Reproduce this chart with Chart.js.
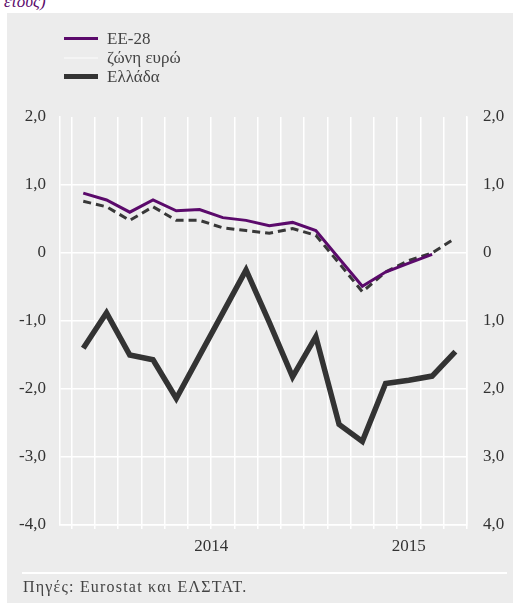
<!DOCTYPE html>
<html>
<head>
<meta charset="utf-8">
<script src="https://cdn.jsdelivr.net/npm/chart.js@4.4.1/dist/chart.umd.min.js"></script>
<style>
  html, body { margin: 0; padding: 0; background: #fff; }
  body { width: 513px; height: 603px; position: relative; overflow: hidden; font-family: "Liberation Serif", "DejaVu Serif", serif; }
  #panel { position: absolute; left: 7px; top: 13px; right: 0; bottom: 0; background: #ececec; }
  #title { position: absolute; left: 4px; top: -8px; color: #5b0a6b; font-size: 17px; font-style: italic; }
  #wrap { position: absolute; left: 0; top: 0; width: 513px; height: 603px; }
  #legend { position: absolute; left: 64px; top: 29px; font-size: 17px; color: #444; line-height: 19px; }
  #legend .row { display: flex; align-items: center; }
  #legend .sw { width: 34px; margin-right: 9px; }
  #rule { position: absolute; left: 22px; width: 485px; top: 572px; height: 2px; background: #fff; }
  #source { position: absolute; left: 23px; top: 578px; font-size: 16px; letter-spacing: 1.2px; color: #444; }
</style>
</head>
<body>
<div id="panel"></div>
<div id="title">έτους)</div>
<div id="wrap"><canvas id="chart"></canvas></div>
<div id="legend">
  <div class="row"><span class="sw" style="border-top:3px solid #5b0a6b"></span>ΕΕ-28</div>
  <div class="row"><span class="sw" style="border-top:2px solid #f4f4f4"></span>ζώνη ευρώ</div>
  <div class="row"><span class="sw" style="border-top:5px solid #333"></span>Ελλάδα</div>
</div>
<div id="rule"></div>
<div id="source">Πηγές: Eurostat και ΕΛΣΤΑΤ.</div>
<script>
// periods (unlabelled months), index positions on the x axis
const periods = [0, 1, 2, 3, 4, 5, 6, 7, 8, 9, 10, 11, 12, 13, 14, 15, 16];
const eu28     = [0.88, 0.78, 0.60, 0.78, 0.62, 0.64, 0.52, 0.48, 0.40, 0.45, 0.33, -0.08, -0.49, -0.28, -0.15, -0.02, null];
const euroArea = [0.76, 0.68, 0.48, 0.68, 0.48, 0.48, 0.37, 0.33, 0.29, 0.36, 0.26, -0.15, -0.57, -0.28, -0.11, 0.00, 0.22];
const greece   = [-1.40, -0.88, -1.50, -1.57, -2.14, -1.51, -0.88, -0.25, -1.02, -1.82, -1.23, -2.52, -2.77, -1.92, -1.87, -1.81, -1.45];

const yTicks = [-4, -3, -2, -1, 0, 1, 2];
const leftTickLabels  = ['-4,0', '-3,0', '-2,0', '-1,0', '0', '1,0', '2,0'];
const rightTickLabels = ['4,0', '3,0', '2,0', '1,0', '0', '1,0', '2,0'];
const yearTicks  = [5.5, 14];
const yearLabels = ['2014', '2015'];

const FONT = { family: '"Liberation Serif", serif', size: 17 };
const gridVals = periods.map(p => p - 0.5).concat([16.5]);
const isYearOnly = c => c.tick && yearTicks.includes(c.tick.value) && !gridVals.includes(c.tick.value);

const toXY = arr => periods.map((p, i) => ({ x: p, y: arr[i] }));

new Chart(document.getElementById('chart'), {
  type: 'line',
  data: {
    datasets: [
      { label: 'ΕΕ-28', data: toXY(eu28), borderColor: '#5b0a6b', borderWidth: 3, order: 0 },
      { label: 'ζώνη ευρώ', data: toXY(euroArea), borderColor: '#383838', borderWidth: 3, borderDash: [8, 5], order: 1 },
      { label: 'Ελλάδα', data: toXY(greece), borderColor: '#333333', borderWidth: 5.5, order: 2 }
    ]
  },
  options: {
    responsive: true,
    maintainAspectRatio: false,
    animation: false,
    elements: { point: { radius: 0 }, line: { tension: 0, fill: false, borderJoinStyle: 'miter' } },
    layout: { padding: { top: 117, bottom: 38, left: 0, right: 0 } },
    plugins: { legend: { display: false }, tooltip: { enabled: false } },
    scales: {
      x: {
        type: 'linear', min: -1, max: 16.5,
        afterBuildTicks: s => { s.ticks = gridVals.concat(yearTicks.filter(v => !gridVals.includes(v))).map(v => ({ value: v })); },
        afterFit: s => { s.height = 40; },
        border: { color: '#fff', width: 1.5 },
        grid: {
          color: c => isYearOnly(c) ? 'rgba(0,0,0,0)' : '#fff',
          tickColor: c => isYearOnly(c) ? 'rgba(0,0,0,0)' : '#fff',
          lineWidth: 1.5, drawTicks: true, tickLength: 4
        },
        ticks: {
          autoSkip: false, maxRotation: 0, padding: 7, color: '#333', font: FONT,
          callback: v => { const i = yearTicks.indexOf(v); return i >= 0 ? yearLabels[i] : ''; }
        }
      },
      y: {
        position: 'left', min: -4, max: 2,
        afterBuildTicks: s => { s.ticks = yTicks.map(v => ({ value: v })); },
        afterFit: s => { s.width = 60; },
        border: { color: '#fff', width: 1.5 },
        grid: { color: c => (c.tick && c.tick.value === 2) ? 'rgba(0,0,0,0)' : '#fff', lineWidth: 1.5, drawTicks: false },
        ticks: { padding: 14, color: '#333', font: FONT, callback: v => leftTickLabels[yTicks.indexOf(v)] }
      },
      y2: {
        position: 'right', min: -4, max: 2, display: true,
        afterBuildTicks: s => { s.ticks = yTicks.map(v => ({ value: v })); },
        afterFit: s => { s.width = 46; },
        border: { color: '#fff', width: 1.5 },
        grid: { display: false, drawTicks: false },
        ticks: { padding: 16, color: '#333', font: FONT, callback: v => rightTickLabels[yTicks.indexOf(v)] }
      }
    }
  }
});
</script>
</body>
</html>
